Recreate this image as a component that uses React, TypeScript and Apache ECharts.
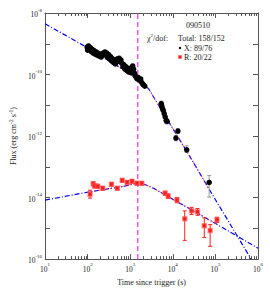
import React, { useEffect, useRef } from "react";
import * as echarts from "echarts";

const X_MIN = 10;
const X_MAX = 1e6;
const Y_MIN = 1e-16;
const Y_MAX = 1e-8;
const BREAK_TIME = 1500;

// X-ray (black) data
const xrayTimes = [
  97, 100, 105, 110, 116, 122, 128, 135, 142, 150, 158, 166, 175, 185, 196, 207, 218, 230, 242, 255,
  268, 282, 296, 312, 328, 345, 362, 380, 400, 420, 445, 470, 495, 520, 548, 575, 605, 640, 675, 710,
  750, 790, 835, 880, 925, 975, 1030, 1085, 1140, 1200, 1260, 1320, 1390, 1460, 1530, 1600, 1680, 1760,
  1850, 1950, 2050, 2200,
  5360, 5500, 5700, 5960, 6280, 6620, 6980, 7360, 11800, 13150, 21200, 71300,
];
const xrayFlux = [
  7.8e-10, 6.2e-10, 8.5e-10, 6.8e-10, 7.5e-10, 5.6e-10, 6.6e-10, 5.0e-10, 6.0e-10, 4.6e-10, 5.4e-10,
  4.3e-10, 5.0e-10, 4.0e-10, 4.6e-10, 3.7e-10, 4.3e-10, 5.0e-10, 4.6e-10, 5.4e-10, 4.2e-10, 5.0e-10,
  3.6e-10, 4.4e-10, 3.2e-10, 3.8e-10, 2.8e-10, 3.3e-10, 2.5e-10, 3.0e-10, 2.2e-10, 2.6e-10, 3.2e-10,
  2.9e-10, 3.4e-10, 2.6e-10, 3.0e-10, 2.3e-10, 1.8e-10, 2.1e-10, 1.5e-10, 1.8e-10, 1.35e-10, 1.6e-10,
  1.2e-10, 1.4e-10, 1.15e-10, 1.7e-10, 1.9e-10, 1.5e-10, 1.1e-10, 9.0e-11, 8.0e-11, 7.2e-11, 8.0e-11,
  7.0e-11, 6.5e-11, 7.2e-11, 5.6e-11, 5.0e-11, 4.6e-11, 4.2e-11,
  1.14e-11, 9.5e-12, 8.0e-12, 6.8e-12, 5.4e-12, 4.2e-12, 3.2e-12, 3.0e-12, 8.6e-13, 1.45e-12, 3.56e-13,
  3.1e-14,
];
const xrayBarTimes = [5360, 5700, 6280, 6980, 7360, 11800, 13150, 21200, 71300];
const xrayBarLow = [9.5e-12, 6.6e-12, 4.5e-12, 2.6e-12, 2.5e-12, 7.0e-13, 1.2e-12, 2.9e-13, 1.04e-14];
const xrayBarHigh = [1.35e-11, 9.6e-12, 6.4e-12, 3.9e-12, 3.6e-12, 1.05e-12, 1.75e-12, 4.8e-13, 5.2e-14];

// Optical R (red) data
const optTimes = [
  114, 135, 145, 173, 226, 363, 498, 648, 845, 1100, 1432, 1866, 6620, 7760, 12480, 19050, 27550, 37840,
  54800, 75200, 108900,
];
const optFlux = [
  1.29e-14, 2.8e-14, 2.4e-14, 2.33e-14, 2.01e-14, 2.7e-14, 2.01e-14, 3.63e-14, 3.13e-14, 3.37e-14,
  2.91e-14, 2.91e-14, 1.39e-14, 1.12e-14, 8.3e-15, 2.05e-15, 3.7e-15, 3.44e-15, 1.22e-15, 8.5e-16,
  1.91e-15,
];
const optLow = [
  9.6e-15, 2.4e-14, 2.05e-14, 2.0e-14, 1.75e-14, 2.35e-14, 1.75e-14, 3.15e-14, 2.75e-14, 2.95e-14,
  2.55e-14, 2.55e-14, 1.18e-14, 9.4e-15, 6.8e-15, 4.06e-16, 2.8e-15, 2.65e-15, 5.06e-16, 2.6e-16,
  1.55e-15,
];
const optHigh = [
  1.74e-14, 3.25e-14, 2.8e-14, 2.7e-14, 2.3e-14, 3.1e-14, 2.3e-14, 4.15e-14, 3.55e-14, 3.85e-14,
  3.3e-14, 3.3e-14, 1.62e-14, 1.32e-14, 1.0e-14, 3.7e-15, 4.8e-15, 4.4e-15, 2.2e-15, 1.32e-15, 2.3e-15,
];

// Model curves
const xrayModelTimes = [10, 97, 721, 1592, 2698, 26100, 71300, 690000];
const xrayModelFlux = [4.45e-9, 7.6e-10, 1.39e-10, 6.67e-11, 3.44e-11, 1.98e-13, 1.87e-14, 1e-16];
const optModelTimes = [10, 114, 721, 1679, 3516, 108900, 1e6];
const optModelFlux = [8.3e-15, 1.55e-14, 2.33e-14, 3.13e-14, 2.01e-14, 1.35e-15, 2.25e-16];

const xTickExps = [1, 2, 3, 4, 5, 6];

const FONT = "'Liberation Serif', 'DejaVu Serif', serif";
const AXIS_COLOR = "#555";

const zip = (a: number[], b: number[]) => a.map((v, i) => [v, b[i]]);

export default function App() {
  const ref = useRef<HTMLDivElement>(null);
  useEffect(() => {
    if (!ref.current) return;
    const chart = echarts.init(ref.current, null, { renderer: "svg" });

    const minorTicks: number[][] = [];
    for (let e = 1; e < 6; e++) {
      for (let m = 2; m <= 9; m++) minorTicks.push([m * Math.pow(10, e), 1e-12]);
    }

    const supRich = {
      b: { fontSize: 7.5, fontFamily: FONT, color: "#222", lineHeight: 11, verticalAlign: "bottom" },
      s: { fontSize: 5, fontFamily: FONT, color: "#222", lineHeight: 11, verticalAlign: "top" },
    };

    const errorRender = (color: string) => (params: any, api: any) => {
      const t = api.value(0);
      const p1 = api.coord([t, api.value(1)]);
      const p2 = api.coord([t, api.value(2)]);
      const style = { stroke: color, lineWidth: 1 };
      return {
        type: "group",
        children: [
          { type: "line", shape: { x1: p1[0], y1: p1[1], x2: p2[0], y2: p2[1] }, style },
          { type: "line", shape: { x1: p1[0] - 2, y1: p1[1], x2: p1[0] + 2, y2: p1[1] }, style },
          { type: "line", shape: { x1: p2[0] - 2, y1: p2[1], x2: p2[0] + 2, y2: p2[1] }, style },
        ],
      };
    };

    const axisLine = { show: true, lineStyle: { color: AXIS_COLOR, width: 1 } };
    const majorTick = { show: true, inside: true, length: 5, lineStyle: { color: AXIS_COLOR, width: 1 } };

    const option: any = {
      animation: false,
      grid: { left: 39, right: 12, top: 13, bottom: 28 },
      xAxis: [
        {
          type: "log",
          logBase: 10,
          min: X_MIN,
          max: X_MAX,
          axisLine,
          axisTick: majorTick,
          splitLine: { show: false },
          axisLabel: {
            margin: 3,
            formatter: (v: number) => {
              const e = Math.round(Math.log10(v));
              return xTickExps.includes(e) ? `{b|10}{s|${e}}` : "";
            },
            rich: supRich,
          },
          name: "Time since trigger (s)",
          nameLocation: "middle",
          nameGap: 13,
          nameTextStyle: { fontFamily: FONT, fontSize: 8, color: "#222" },
        },
        {
          type: "log",
          logBase: 10,
          min: X_MIN,
          max: X_MAX,
          position: "top",
          axisLine,
          axisTick: majorTick,
          axisLabel: { show: false },
          splitLine: { show: false },
        },
      ],
      yAxis: [
        {
          type: "log",
          logBase: 10,
          min: Y_MIN,
          max: Y_MAX,
          axisLine,
          axisTick: majorTick,
          splitLine: { show: false },
          axisLabel: {
            margin: 3,
            formatter: (v: number) => {
              const e = Math.round(Math.log10(v));
              return e % 2 === 0 ? `{b|10}{s|${e}}` : "";
            },
            rich: supRich,
          },
          name: "Flux (erg cm{s|-2} s{s|-1})",
          nameLocation: "middle",
          nameGap: 20,
          nameTextStyle: {
            fontFamily: FONT,
            fontSize: 8,
            color: "#222",
            rich: {
              s: { fontSize: 5.5, fontFamily: FONT, color: "#222", verticalAlign: "top", lineHeight: 10 },
            },
          },
        },
        {
          type: "log",
          logBase: 10,
          min: Y_MIN,
          max: Y_MAX,
          position: "right",
          axisLine,
          axisTick: majorTick,
          axisLabel: { show: false },
          splitLine: { show: false },
        },
      ],
      series: [
        {
          type: "custom",
          name: "minorTicks",
          coordinateSystem: "cartesian2d",
          clip: false,
          silent: true,
          data: minorTicks,
          encode: { x: 0, y: 1 },
          renderItem: (params: any, api: any) => {
            const v = api.value(0);
            const b = api.coord([v, Y_MIN]);
            const t = api.coord([v, Y_MAX]);
            const x = Math.round(b[0]) + 0.5;
            const style = { stroke: AXIS_COLOR, lineWidth: 1 };
            return {
              type: "group",
              children: [
                { type: "line", shape: { x1: x, y1: b[1], x2: x, y2: b[1] - 3 }, style },
                { type: "line", shape: { x1: x, y1: t[1], x2: x, y2: t[1] + 3 }, style },
              ],
            };
          },
          z: 6,
        },
        {
          type: "line",
          name: "break",
          data: [
            [BREAK_TIME, Y_MIN],
            [BREAK_TIME, Y_MAX],
          ],
          showSymbol: false,
          symbol: "none",
          itemStyle: { color: "#ff55ff" },
          lineStyle: { color: "#ff55ff", width: 1.5, type: [5, 3] },
          z: 2,
        },
        {
          type: "line",
          name: "xrayModel",
          data: zip(xrayModelTimes, xrayModelFlux),
          showSymbol: false,
          symbol: "none",
          lineStyle: { color: "#0000ff", width: 1.2, type: [5, 2, 1, 2] },
          z: 2,
        },
        {
          type: "line",
          name: "optModel",
          data: zip(optModelTimes, optModelFlux),
          showSymbol: false,
          symbol: "none",
          lineStyle: { color: "#0000ff", width: 1.2, type: [5, 2, 1, 2] },
          z: 2,
        },
        {
          type: "line",
          name: "xrayFit",
          data: zip(xrayModelTimes, xrayModelFlux).slice(1, 7),
          showSymbol: false,
          symbol: "none",
          lineStyle: { color: "#ff3030", width: 0.8, type: [2, 2] },
          z: 3,
        },
        {
          type: "line",
          name: "optFit",
          data: zip(optModelTimes, optModelFlux).slice(1, 6),
          showSymbol: false,
          symbol: "none",
          lineStyle: { color: "#ff3030", width: 0.8, type: [2, 2] },
          z: 3,
        },
        {
          type: "custom",
          name: "xrayErr",
          coordinateSystem: "cartesian2d",
          data: xrayBarTimes.map((t, i) => [t, xrayBarLow[i], xrayBarHigh[i]]),
          encode: { x: 0, y: [1, 2] },
          renderItem: errorRender("#999"),
          z: 4,
        },
        {
          type: "custom",
          name: "optErr",
          coordinateSystem: "cartesian2d",
          data: optTimes.map((t, i) => [t, optLow[i], optHigh[i]]),
          encode: { x: 0, y: [1, 2] },
          renderItem: errorRender("#ff2020"),
          z: 4,
        },
        {
          type: "scatter",
          name: "X",
          data: zip(xrayTimes, xrayFlux),
          symbol: "circle",
          symbolSize: 5.5,
          itemStyle: { color: "#000", opacity: 1 },
          z: 5,
        },
        {
          type: "scatter",
          name: "R",
          data: zip(optTimes, optFlux),
          symbol: "rect",
          symbolSize: 4,
          itemStyle: { color: "#ff1a1a", borderColor: "rgba(255,90,90,0.55)", borderWidth: 1.5, opacity: 1 },
          z: 5,
        },
      ],
      graphic: [
        {
          type: "text",
          x: 198,
          y: 25,
          style: { text: "090510", fontFamily: FONT, fontSize: 8, fill: "#222", align: "center", verticalAlign: "middle" },
        },
        {
          type: "text",
          x: 147,
          y: 38,
          style: {
            text: "χ{s|2}/dof:",
            fontFamily: FONT,
            fontSize: 8,
            fill: "#222",
            verticalAlign: "middle",
            rich: { s: { fontSize: 5, fontFamily: FONT, fill: "#222", verticalAlign: "top", lineHeight: 10 } },
          },
        },
        {
          type: "text",
          x: 178,
          y: 38,
          style: { text: "Total: 158/152", fontFamily: FONT, fontSize: 8, fill: "#222", verticalAlign: "middle" },
        },
        { type: "circle", shape: { cx: 180, cy: 48, r: 1.2 }, style: { fill: "#000" } },
        {
          type: "text",
          x: 184,
          y: 48,
          style: { text: "X: 89/76", fontFamily: FONT, fontSize: 8, fill: "#222", verticalAlign: "middle" },
        },
        {
          type: "rect",
          shape: { x: 178.5, y: 55.5, width: 3, height: 3 },
          style: { fill: "#ff1a1a", stroke: "rgba(255,90,90,0.55)", lineWidth: 1.2 },
        },
        {
          type: "text",
          x: 184,
          y: 57,
          style: { text: "R: 20/22", fontFamily: FONT, fontSize: 8, fill: "#222", verticalAlign: "middle" },
        },
      ],
    };
    chart.setOption(option);
    return () => chart.dispose();
  }, []);
  return (
    <div
      ref={ref}
      style={{ position: "fixed", left: 0, top: 0, width: 270, height: 291, background: "#fff" }}
    />
  );
}
